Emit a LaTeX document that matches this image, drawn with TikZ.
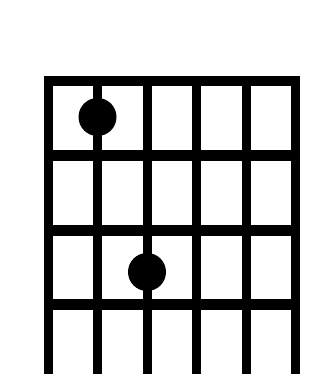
\documentclass[tikz,border=0pt]{standalone}
\usetikzlibrary{positioning}
\begin{document}
\begin{tikzpicture}[x=1pt,y=1pt,
    stringline/.style={line width=9pt},
    fretline/.style={line width=11pt},
    fingerdot/.style={circle,fill=black,minimum size=38pt,inner sep=0pt}]
    \useasboundingbox (0,0) rectangle (321,374);
    \clip (0,0) rectangle (321,374);
    % 弦
    \foreach \x in {48,97.5,147,196.5,246,295.5} {
        \draw[stringline] (\x,-5) -- (\x,298);
    }
    % 品
    \draw[line width=10pt] (43.5,293) -- (300,293);
    \foreach \y in {218,143,69} {
        \draw[fretline] (43.5,\y) -- (300,\y);
    }
    % 按弦点
    \node[fingerdot] (dotA) at (97.5,257) {};
    \node[fingerdot] (dotB) at (147,102) {};
\end{tikzpicture}
\end{document}
